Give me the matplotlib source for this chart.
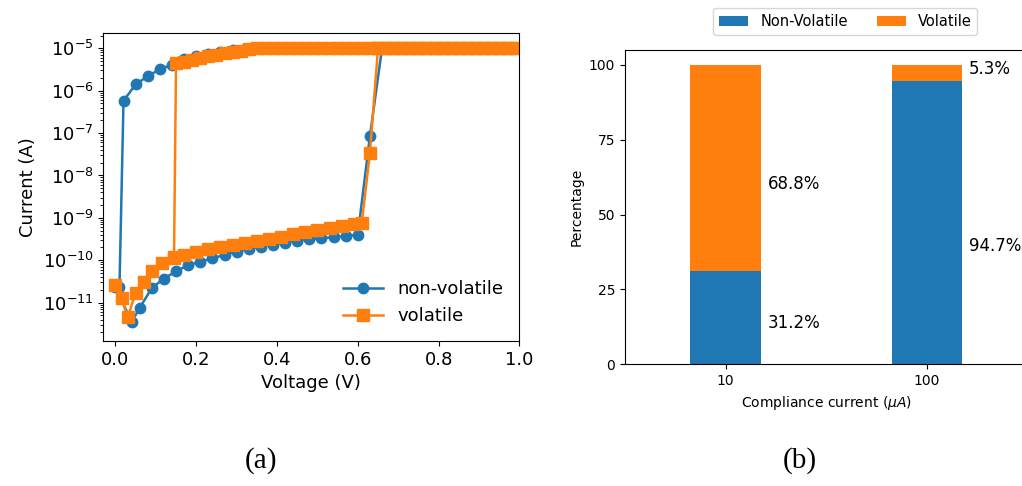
import numpy as np
import matplotlib
matplotlib.use("Agg")
import matplotlib.pyplot as plt
from matplotlib.ticker import LogLocator, NullFormatter

# (a) I-V sweeps
# non-volatile: forward sweep (0 -> 1 V)
nv_v_fwd = [0.00, 0.04, 0.06, 0.09, 0.12, 0.15, 0.18, 0.21, 0.24, 0.27, 0.30,
            0.33, 0.36, 0.39, 0.42, 0.45, 0.48, 0.51, 0.54, 0.57, 0.60, 0.63,
            0.66, 0.69, 0.72, 0.75, 0.78, 0.81, 0.84, 0.87, 0.90, 0.93, 0.96, 0.99]
nv_i_fwd = [2.4e-11, 3.5e-12, 7.5e-12, 2.2e-11, 3.7e-11, 5.5e-11, 7.6e-11, 9.3e-11,
            1.1e-10, 1.35e-10, 1.6e-10, 1.85e-10, 2.1e-10, 2.35e-10, 2.6e-10,
            2.9e-10, 3.1e-10, 3.3e-10, 3.5e-10, 3.75e-10, 4.0e-10, 8.5e-8,
            1e-5, 1e-5, 1e-5, 1e-5, 1e-5, 1e-5, 1e-5, 1e-5, 1e-5, 1e-5, 1e-5, 1e-5]
# non-volatile: reverse sweep (1 -> 0 V)
nv_v_rev = [0.98, 0.95, 0.92, 0.89, 0.86, 0.83, 0.80, 0.77, 0.74, 0.71, 0.68,
            0.65, 0.62, 0.59, 0.56, 0.53, 0.50, 0.47, 0.44, 0.41, 0.38, 0.35,
            0.32, 0.29, 0.26, 0.23, 0.20, 0.17, 0.14, 0.11, 0.08, 0.05, 0.02, 0.01]
nv_i_rev = [1e-5, 1e-5, 1e-5, 1e-5, 1e-5, 1e-5, 1e-5, 1e-5, 1e-5, 1e-5, 1e-5,
            1e-5, 1e-5, 1e-5, 1e-5, 1e-5, 1e-5, 1e-5, 1e-5, 1e-5, 1e-5, 1e-5,
            9.6e-6, 9.0e-6, 8.3e-6, 7.4e-6, 6.5e-6, 5.5e-6, 4.1e-6, 3.2e-6,
            2.2e-6, 1.4e-6, 5.8e-7, 2.4e-11]

# volatile: forward sweep
vo_v_fwd = [0.00, 0.015, 0.03, 0.05, 0.07, 0.09, 0.115, 0.145, 0.17, 0.20, 0.23,
            0.26, 0.29, 0.32, 0.35, 0.38, 0.41, 0.44, 0.47, 0.50, 0.53, 0.56,
            0.59, 0.61, 0.63, 0.65, 0.68, 0.71, 0.74, 0.77, 0.80, 0.83, 0.86,
            0.89, 0.92, 0.95, 0.98]
vo_i_fwd = [2.6e-11, 1.3e-11, 4.5e-12, 1.7e-11, 3.1e-11, 5.5e-11, 8.5e-11, 1.1e-10,
            1.35e-10, 1.6e-10, 1.85e-10, 2.1e-10, 2.3e-10, 2.6e-10, 2.9e-10,
            3.2e-10, 3.6e-10, 4.1e-10, 4.6e-10, 5.1e-10, 5.7e-10, 6.3e-10,
            7.0e-10, 7.7e-10, 3.4e-8, 1e-5, 1e-5, 1e-5, 1e-5, 1e-5, 1e-5, 1e-5,
            1e-5, 1e-5, 1e-5, 1e-5, 1e-5]
# volatile: reverse sweep, drops back at ~0.145 V
vo_v_rev = [0.99, 0.97, 0.95, 0.93, 0.91, 0.89, 0.87, 0.85, 0.83, 0.81, 0.79,
            0.77, 0.75, 0.73, 0.71, 0.69, 0.67, 0.65, 0.63, 0.61, 0.59, 0.57,
            0.55, 0.53, 0.51, 0.49, 0.47, 0.45, 0.43, 0.41, 0.39, 0.37, 0.35,
            0.33, 0.31, 0.29, 0.27, 0.25, 0.23, 0.21, 0.19, 0.17, 0.15, 0.145]
vo_i_rev = [1e-5, 1e-5, 1e-5, 1e-5, 1e-5, 1e-5, 1e-5, 1e-5, 1e-5, 1e-5, 1e-5,
            1e-5, 1e-5, 1e-5, 1e-5, 1e-5, 1e-5, 1e-5, 1e-5, 1e-5, 1e-5, 1e-5,
            1e-5, 1e-5, 1e-5, 1e-5, 1e-5, 1e-5, 1e-5, 1e-5, 1e-5, 1e-5, 9.9e-6,
            9.4e-6, 8.8e-6, 8.2e-6, 7.6e-6, 7.0e-6, 6.4e-6, 5.8e-6, 5.3e-6,
            4.8e-6, 4.4e-6, 1.2e-10]

# (b) stacked percentages
categories = ['10', '100']
nonvol_pct = [31.2, 94.7]
vol_pct = [68.8, 5.3]

blue = '#1f77b4'
orange = '#ff7f0e'

fig = plt.figure(figsize=(10.22, 4.86), dpi=100)

# ---- panel (a) ----
ax1 = fig.add_axes([0.1011, 0.2979, 0.4071, 0.6333])
ax1.plot(nv_v_fwd + nv_v_rev, nv_i_fwd + nv_i_rev, '-o', color=blue,
         lw=1.8, ms=7.5, label='non-volatile')
ax1.plot(vo_v_fwd + vo_v_rev, vo_i_fwd + vo_i_rev, '-s', color=orange,
         lw=1.8, ms=8, label='volatile')
ax1.set_yscale('log')
ax1.set_xlim(-0.03, 1.0)
ax1.set_ylim(10**-11.91, 10**-4.65)
ax1.yaxis.set_major_locator(LogLocator(base=10, numticks=20))
ax1.yaxis.set_minor_locator(LogLocator(base=10, subs=np.arange(2, 10), numticks=20))
ax1.yaxis.set_minor_formatter(NullFormatter())
ax1.set_xticks([0.0, 0.2, 0.4, 0.6, 0.8, 1.0])
ax1.tick_params(labelsize=13)
ax1.set_xlabel('Voltage (V)', fontsize=13)
ax1.set_ylabel('Current (A)', fontsize=13)
ax1.legend(loc='lower right', frameon=False, fontsize=13, handlelength=2.2)

# ---- panel (b) ----
# the right part of this panel runs off the figure, as in the original
ax2 = fig.add_axes([0.6115, 0.2504, 0.394, 0.6467])
x = np.arange(len(categories))
ax2.bar(x, nonvol_pct, width=0.35, color=blue, label='Non-Volatile')
ax2.bar(x, vol_pct, width=0.35, bottom=nonvol_pct, color=orange, label='Volatile')
ax2.set_xlim(-0.5, 1.5)
ax2.set_yticks([0, 25, 50, 75, 100])
ax2.set_xticks(x)
ax2.set_xticklabels(categories)
ax2.tick_params(labelsize=10)
ax2.set_xlabel(r'Compliance current ($\mu A$)', fontsize=10)
ax2.set_ylabel('Percentage', fontsize=10)
ax2.legend(loc='center', bbox_to_anchor=(0.5475, 1.091), ncol=2, fontsize=10.5)

# percentage labels next to the bars
nonvol_label_y = [13.9, 39.4]
vol_label_y = [60.2, 98.6]
for i in range(len(categories)):
    ax2.text(x[i] + 0.21, nonvol_label_y[i], '%.1f%%' % nonvol_pct[i],
             fontsize=12, ha='left', va='center')
    ax2.text(x[i] + 0.21, vol_label_y[i], '%.1f%%' % vol_pct[i],
             fontsize=12, ha='left', va='center')

# sub-figure captions
fig.text(261/1022, 1 - 461/486, '(a)', family='Liberation Serif', fontsize=21,
         ha='center', va='center')
fig.text(800/1022, 1 - 461/486, '(b)', family='Liberation Serif', fontsize=21,
         ha='center', va='center')

fig.savefig('out.png', dpi=100)
